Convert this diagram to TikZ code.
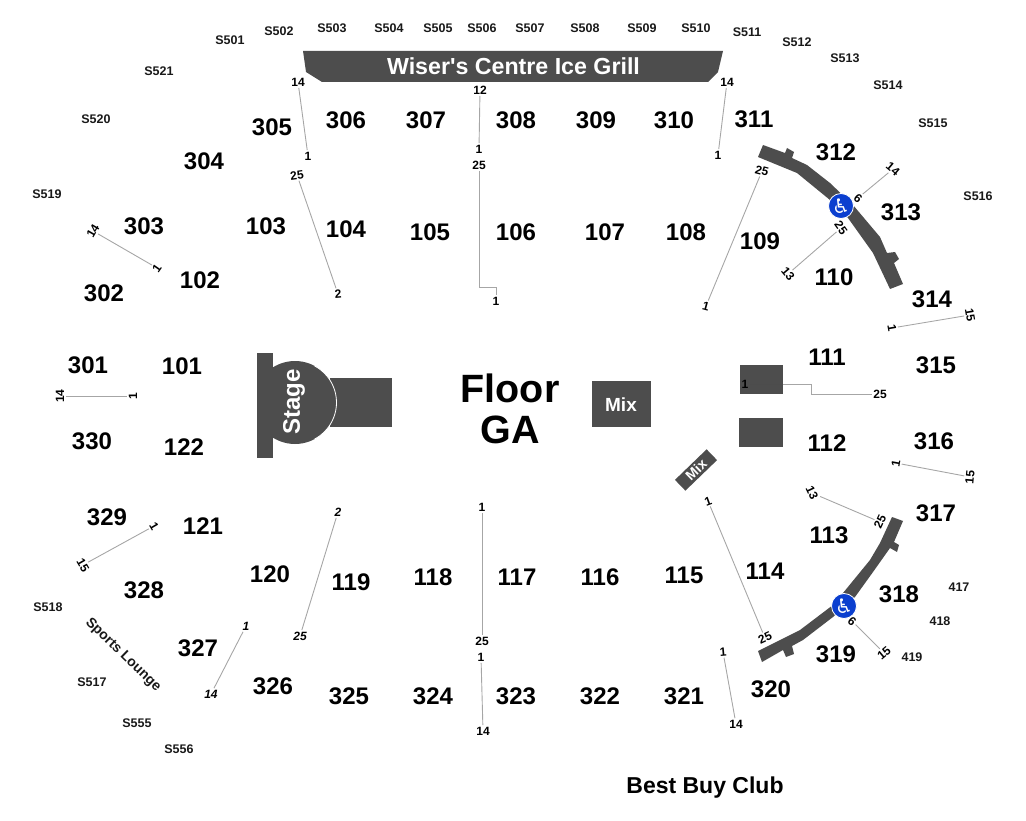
\documentclass[tikz,border=0pt]{standalone}
\usepackage{fontspec}
\setmainfont{Liberation Sans}
\newfontfamily\symfont{DejaVu Sans}
\usepackage{tikz}
\usetikzlibrary{positioning}
\definecolor{blockgray}{HTML}{4D4D4D}
\definecolor{rowgray}{HTML}{A6A6A6}
\definecolor{wheelblue}{HTML}{0B3FCF}
\tikzset{
    %Define style for section numbers
    section/.style={
           inner sep=0pt,
           font=\fontsize{24}{24}\selectfont\bfseries,
           text=black
           },
    suite/.style={
           inner sep=0pt,
           font=\fontsize{12.5}{13}\selectfont\bfseries,
           text=black!90!white
           },
    rownum/.style={
           inner sep=1.5pt,
           font=\fontsize{12}{12}\selectfont\bfseries,
           text=black
           },
    rownumit/.style={
           rownum,
           font=\fontsize{12}{12}\selectfont\bfseries\itshape
           },
    big/.style={
           inner sep=0pt,
           font=\fontsize{39.5}{40}\selectfont\bfseries
           },
    block/.style={
           fill=blockgray,
           draw=none
           },
    blocktext/.style={
           text=white,
           inner sep=0pt,
           font=\bfseries
           },
    wheel/.style={
           circle,
           fill=wheelblue,
           draw=white, thick,
           minimum width=25pt,
           inner sep=0pt,
           text=white,
           font=\symfont\fontsize{20}{20}\selectfont
           },
    % Define row line style
    rowline/.style={
           draw=rowgray,
           line width=0.9pt}
}
\begin{document}
\begin{tikzpicture}[x=1pt,y=-1pt]
\useasboundingbox (0,0) rectangle (1026,821);
 %blocks
\fill[block] (303,51) -- (723,51) -- (718,72) -- (708,82) -- (322,82) -- (306,72) -- cycle;
\node[blocktext, font=\fontsize{23.2}{24}\selectfont\bfseries](grill) at (513.5,66){Wiser\textquotesingle s Centre Ice Grill};
\fill[block] (330,378) rectangle (392,427);
\begin{scope}
\clip (257,350) rectangle (345,460);
\fill[block] (295,402.5) circle (41.5);
\end{scope}
\draw[white, thick] (295,402.5) ++(-62:41.5) arc[start angle=-62, end angle=62, radius=41.5];
\fill[block] (257,353) rectangle (273,458);
\node[blocktext, rotate=90, font=\fontsize{24}{24}\selectfont\bfseries](stage) at (294,402){Stage};
\node[block, minimum width=59pt, minimum height=46pt, inner sep=0pt](mix) at (621.5,404){};
\node[blocktext, font=\fontsize{19}{19}\selectfont\bfseries] (mixtext) at (621,405){Mix};
\node[block, blocktext, rotate=44, minimum width=44pt, minimum height=15pt, font=\fontsize{14}{14}\selectfont\bfseries](mixsmall) at (696,470){Mix};
\fill[block] (740,365) rectangle (783,394);
\fill[block] (739,418) rectangle (783,447);
\fill[block] (763,145) -- (785,153) -- (787,148) -- (794,152) -- (792,158) -- (807,165) -- (830,183) -- (853,205) -- (880,237) -- (887,253) -- (895,252) -- (899,259) -- (894,263) -- (903,284) -- (890,289) -- (873,253) -- (848,218) -- (830,200) -- (797,173) -- (758,157) -- cycle;
\fill[block] (892,517) -- (903,521) -- (894,542) -- (899,545) -- (897,552) -- (890,548) -- (873,572) -- (855,597) -- (833,617) -- (803,640) -- (792,646) -- (794,654) -- (786,657) -- (783,650) -- (762,662) -- (758,651) -- (800,630) -- (833,605) -- (843,593) -- (870,560) -- (880,543) -- cycle;
\node[wheel](wheelup) at (841,206){\symbol{"267F}};
\node[wheel](wheeldown) at (844,606){\symbol{"267F}};
 %big labels
\node[big](floor) at (510,388){Floor};
\node[big](ga) at (510,430){GA};
\node[inner sep=0pt, font=\fontsize{23}{23}\selectfont\bfseries](club) at (705,788){Best Buy Club};
\node[suite, rotate=-44, font=\fontsize{14}{14}\selectfont\bfseries](lounge) at (123,655){Sports Lounge};
 %suites
\node[suite](s501) at (230,40){S501};
\node[suite](s502) at (279,31){S502};
\node[suite](s503) at (332,28){S503};
\node[suite](s504) at (389,28){S504};
\node[suite](s505) at (438,28){S505};
\node[suite](s506) at (482,28){S506};
\node[suite](s507) at (530,28){S507};
\node[suite](s508) at (585,28){S508};
\node[suite](s509) at (642,28){S509};
\node[suite](s510) at (696,28){S510};
\node[suite](s511) at (747,32){S511};
\node[suite](s512) at (797,42){S512};
\node[suite](s513) at (845,58){S513};
\node[suite](s514) at (888,85){S514};
\node[suite](s515) at (933,123){S515};
\node[suite](s516) at (978,196){S516};
\node[suite](s521) at (159,71){S521};
\node[suite](s520) at (96,119){S520};
\node[suite](s519) at (47,194){S519};
\node[suite](s518) at (48,607){S518};
\node[suite](s517) at (92,682){S517};
\node[suite](s555) at (137,723){S555};
\node[suite](s556) at (179,749){S556};
\node[suite](n417) at (959,587){417};
\node[suite](n418) at (940,621){418};
\node[suite](n419) at (912,657){419};
 %sections
\node[section](n305) at (272,127){305};
\node[section](n306) at (346,120){306};
\node[section](n307) at (426,120){307};
\node[section](n308) at (516,120){308};
\node[section](n309) at (596,120){309};
\node[section](n310) at (674,120){310};
\node[section](n311) at (754,119){311};
\node[section](n312) at (836,152){312};
\node[section](n313) at (901,212){313};
\node[section](n304) at (204,161){304};
\node[section](n303) at (144,226){303};
\node[section](n103) at (266,226){103};
\node[section](n104) at (346,229){104};
\node[section](n105) at (430,232){105};
\node[section](n106) at (516,232){106};
\node[section](n107) at (605,232){107};
\node[section](n108) at (686,232){108};
\node[section](n109) at (760,241){109};
\node[section](n110) at (834,277){110};
\node[section](n302) at (104,293){302};
\node[section](n102) at (200,280){102};
\node[section](n314) at (932,299){314};
\node[section](n301) at (88,365){301};
\node[section](n101) at (182,366){101};
\node[section](n111) at (827,357){111};
\node[section](n315) at (936,365){315};
\node[section](n330) at (92,441){330};
\node[section](n122) at (184,447){122};
\node[section](n112) at (827,443){112};
\node[section](n316) at (934,441){316};
\node[section](n329) at (107,517){329};
\node[section](n121) at (203,526){121};
\node[section](n317) at (936,513){317};
\node[section](n113) at (829,535){113};
\node[section](n328) at (144,590){328};
\node[section](n120) at (270,574){120};
\node[section](n119) at (351,582){119};
\node[section](n118) at (433,577){118};
\node[section](n117) at (517,577){117};
\node[section](n116) at (600,577){116};
\node[section](n115) at (684,575){115};
\node[section](n114) at (765,571){114};
\node[section](n318) at (899,594){318};
\node[section](n327) at (198,648){327};
\node[section](n319) at (836,654){319};
\node[section](n326) at (273,686){326};
\node[section](n325) at (349,696){325};
\node[section](n324) at (433,696){324};
\node[section](n323) at (516,696){323};
\node[section](n322) at (600,696){322};
\node[section](n321) at (684,696){321};
\node[section](n320) at (771,689){320};
 %row numbers
\node[rownum](a1) at (298,82){14};
\node[rownum](a2) at (308,156){1};
\node[rownum, rotate=8](b1) at (297,175){25};
\node[rownum, rotate=5](b2) at (338,294){2};
\node[rownum](c1) at (480,90){12};
\node[rownum](c2) at (479,149){1};
\node[rownum](d1) at (479,165){25};
\node[rownum](d2) at (496,301){1};
\node[rownum](e1) at (727,82){14};
\node[rownum](e2) at (718,155){1};
\node[rownum, rotate=-15](f1) at (762,171){25};
\node[rownum, rotate=-15](f2) at (706,306){1};
\node[rownum, rotate=-40](g1) at (893,169){14};
\node[rownum, rotate=-40](g2) at (858,198){6};
\node[rownum, rotate=-55](h1) at (841,228){25};
\node[rownum, rotate=-50](h2) at (788,274){13};
\node[rownum, rotate=60](i1) at (93,231){14};
\node[rownum, rotate=55](i2) at (157,268){1};
\node[rownum, rotate=90](j1) at (60,396){14};
\node[rownum, rotate=90](j2) at (133,396){1};
\node[rownum, rotate=-80](k1) at (970,315){15};
\node[rownum, rotate=-80](k2) at (892,328){1};
\node[rownum](l1) at (745,384){1};
\node[rownum](l2) at (880,394){25};
\node[rownum, rotate=85](m1) at (970,477){15};
\node[rownum, rotate=80](m2) at (896,463){1};
\node[rownum, rotate=-65](o1) at (812,493){13};
\node[rownum, rotate=65](o2) at (880,522){25};
\node[rownum, rotate=20](p1) at (708,501){1};
\node[rownum, rotate=25](p2) at (765,638){25};
\node[rownum, rotate=-40](q1) at (852,621){6};
\node[rownum, rotate=40](q2) at (884,653){15};
\node[rownum, rotate=-60](t1) at (154,526){1};
\node[rownum, rotate=-60](t2) at (83,565){15};
\node[rownumit](u1) at (338,512){2};
\node[rownumit](u2) at (300,636){25};
\node[rownum](v1) at (482,507){1};
\node[rownum](v2) at (482,641){25};
\node[rownumit](w1) at (246,626){1};
\node[rownumit](w2) at (211,694){14};
\node[rownum](x1) at (481,657){1};
\node[rownum](x2) at (483,731){14};
\node[rownum, rotate=5](y1) at (723,652){1};
\node[rownum](y2) at (736,724){14};
 %bends
\coordinate (dbend) at (496,287);
\coordinate (ledge) at (783,384);
\coordinate (lbend1) at (811,384);
\coordinate (lbend2) at (811,394);
 %row lines
\path[rowline]
    (a1) edge (a2)
    (b1) edge (b2)
    (c1) edge (c2)
    (e1) edge (e2)
    (f1) edge (f2)
    (g1) edge (g2)
    (h1) edge (h2)
    (i1) edge (i2)
    (j1) edge (j2)
    (k1) edge (k2)
    (m1) edge (m2)
    (o1) edge (o2)
    (p1) edge (p2)
    (q1) edge (q2)
    (t1) edge (t2)
    (u1) edge (u2)
    (v1) edge (v2)
    (w1) edge (w2)
    (x1) edge (x2)
    (y1) edge (y2);
\draw[rowline] (d1) |- (dbend) -- (d2);
\draw[black!70!white, line width=0.9pt] (l1) -- (ledge);
\draw[rowline] (ledge) -- (lbend1) -- (lbend2) -- (l2);
\end{tikzpicture}
\end{document}
